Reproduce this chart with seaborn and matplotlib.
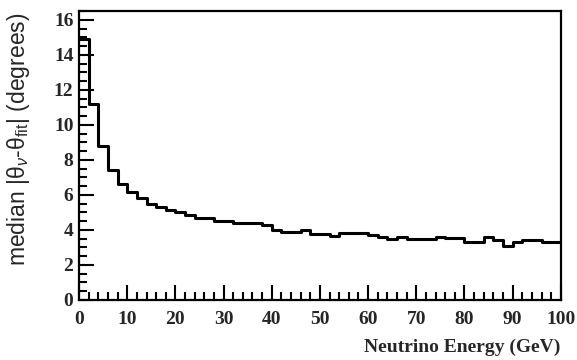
import matplotlib
matplotlib.use("Agg")
import matplotlib.pyplot as plt
from matplotlib.ticker import MultipleLocator
import seaborn as sns
import numpy as np

# bin edges (GeV) and median angular error per bin (degrees)
bin_edges = list(range(0, 102, 2))
median_angle = [
    14.9, 11.2, 8.8, 7.45, 6.65, 6.15, 5.85, 5.5, 5.3, 5.15,
    5.0, 4.85, 4.68, 4.68, 4.5, 4.5, 4.4, 4.4, 4.4, 4.28,
    4.0, 3.9, 3.9, 4.0, 3.78, 3.78, 3.65, 3.8, 3.8, 3.8,
    3.7, 3.57, 3.48, 3.58, 3.5, 3.5, 3.5, 3.6, 3.52, 3.52,
    3.3, 3.3, 3.6, 3.45, 3.1, 3.3, 3.42, 3.42, 3.3, 3.3,
]
bin_centers = [(a + b) / 2 for a, b in zip(bin_edges[:-1], bin_edges[1:])]

sns.set_style("white")
plt.rcParams["mathtext.fontset"] = "custom"
plt.rcParams["mathtext.rm"] = "Liberation Sans"
plt.rcParams["mathtext.it"] = "Liberation Sans:italic"

fig = plt.figure(figsize=(5.77, 3.6), dpi=100)
ax = fig.add_axes([0.137, 0.167, 0.835, 0.802])

sns.histplot(x=bin_centers, weights=median_angle, bins=bin_edges,
             element="step", fill=False, color="black", linewidth=2.2, ax=ax)

ax.set_xlim(0, 100)
ax.set_ylim(0, 16.5)
ax.xaxis.set_major_locator(MultipleLocator(10))
ax.xaxis.set_minor_locator(MultipleLocator(2))
ax.yaxis.set_major_locator(MultipleLocator(2))
ax.yaxis.set_minor_locator(MultipleLocator(0.5))
ax.tick_params(which="both", direction="in", top=False, right=False,
               bottom=True, left=True, width=1.5, color="black")
ax.tick_params(which="major", length=11)
ax.tick_params(which="minor", length=5.5)
ax.tick_params(axis="x", which="major", pad=8)
ax.tick_params(axis="y", which="major", pad=4)

for spine in ax.spines.values():
    spine.set_linewidth(1.6)
    spine.set_color("black")

for lab in ax.get_xticklabels() + ax.get_yticklabels():
    lab.set_fontfamily("Liberation Serif")
    lab.set_fontweight("bold")
    lab.set_fontsize(14)

ax.set_xlabel("Neutrino Energy (GeV)", fontfamily="Liberation Serif",
              fontweight="bold", fontsize=14, loc="right", labelpad=8)
ax.set_ylabel(r"median |θ$_{\nu}$-θ$_{\rm fit}$| (degrees)",
              fontfamily="Liberation Sans", fontsize=16.5)
ax.yaxis.set_label_coords(-0.097, 0.555)

fig.savefig("out.png", dpi=100)
